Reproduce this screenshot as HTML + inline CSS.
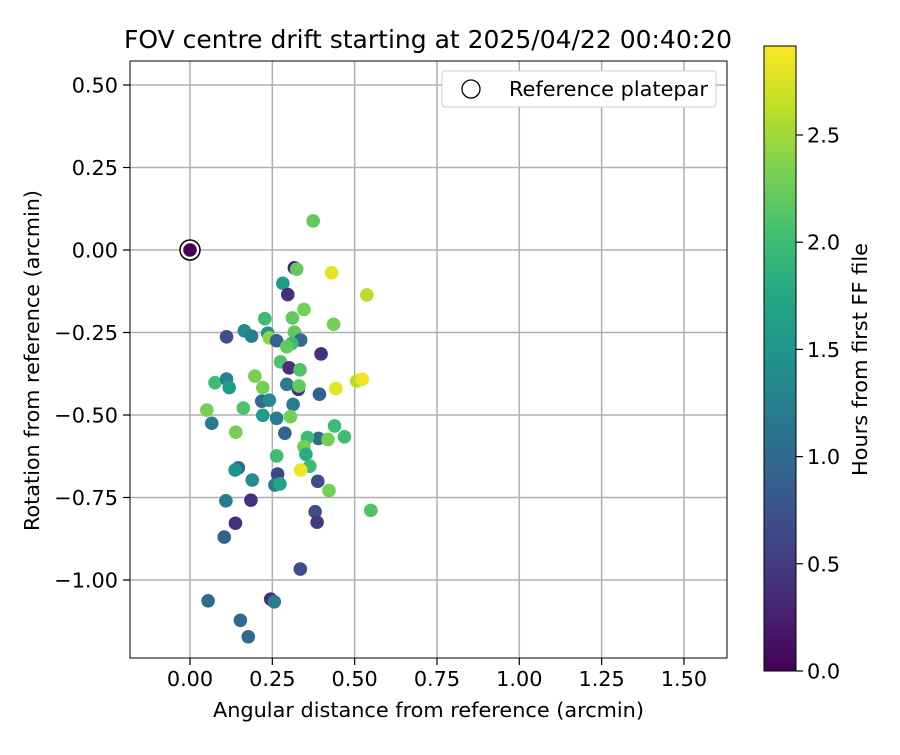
<!DOCTYPE html>
<html><head><meta charset="utf-8"><style>
body{margin:0;background:#fff}
svg text{font-family:"DejaVu Sans","Liberation Sans",sans-serif;fill:#000}
</style></head><body>
<svg id="chart" width="900" height="750" xmlns="http://www.w3.org/2000/svg">
<defs>
<linearGradient id="vir" x1="0" y1="1" x2="0" y2="0">
<stop offset="0" stop-color="#440154"/><stop offset="0.1" stop-color="#482475"/><stop offset="0.2" stop-color="#414487"/><stop offset="0.3" stop-color="#355f8d"/><stop offset="0.4" stop-color="#2a788e"/><stop offset="0.5" stop-color="#21918c"/><stop offset="0.6" stop-color="#22a884"/><stop offset="0.7" stop-color="#44bf70"/><stop offset="0.8" stop-color="#7ad151"/><stop offset="0.9" stop-color="#bddf26"/><stop offset="1" stop-color="#fde725"/>
</linearGradient>
</defs>
<text x="124" y="48" font-size="25" textLength="608" lengthAdjust="spacingAndGlyphs">FOV centre drift starting at 2025/04/22 00:40:20</text>
<g id="grid"></g>
<g id="pts"></g>
<rect x="130" y="61" width="597" height="597" fill="none" stroke="#000" stroke-width="1"/>
<g id="axes"></g>
<text x="213" y="717" font-size="20.8" textLength="431" lengthAdjust="spacingAndGlyphs">Angular distance from reference (arcmin)</text>
<text transform="translate(39,531) rotate(-90)" font-size="20.8" textLength="341" lengthAdjust="spacingAndGlyphs">Rotation from reference (arcmin)</text>
<g>
<rect x="442" y="71" width="274" height="36" rx="3" fill="#fff" stroke="#ccc"/>
<circle cx="471" cy="89" r="9" fill="#fff" stroke="#000" stroke-width="1.3"/>
<text x="509" y="96" font-size="20.8" textLength="199" lengthAdjust="spacingAndGlyphs">Reference platepar</text>
</g>
<rect x="764" y="46" width="32" height="625" fill="url(#vir)" stroke="#000" stroke-width="1"/>
<g id="cbticks"></g>
<text transform="translate(867,476) rotate(-90)" font-size="20.8" textLength="233" lengthAdjust="spacingAndGlyphs">Hours from first FF file</text>
</svg>
<script>
const xs=[0,0.374,0.317,0.324,0.430,0.282,0.297,0.537,0.346,0.227,0.311,0.436,0.111,0.165,0.187,0.236,0.241,0.263,0.317,0.336,0.309,0.294,0.398,0.275,0.301,0.334,0.076,0.111,0.119,0.197,0.221,0.294,0.329,0.331,0.393,0.443,0.506,0.523,0.218,0.241,0.313,0.051,0.162,0.221,0.263,0.305,0.066,0.139,0.288,0.439,0.469,0.390,0.357,0.419,0.346,0.352,0.263,0.364,0.336,0.147,0.137,0.266,0.189,0.258,0.273,0.388,0.422,0.109,0.185,0.380,0.386,0.549,0.138,0.104,0.335,0.055,0.245,0.256,0.153,0.177];
const ys=[0,0.088,-0.054,-0.058,-0.069,-0.101,-0.135,-0.136,-0.180,-0.208,-0.206,-0.225,-0.263,-0.245,-0.261,-0.252,-0.266,-0.275,-0.249,-0.273,-0.283,-0.293,-0.315,-0.339,-0.357,-0.363,-0.402,-0.391,-0.417,-0.382,-0.417,-0.407,-0.422,-0.412,-0.437,-0.420,-0.397,-0.392,-0.458,-0.455,-0.468,-0.485,-0.479,-0.501,-0.510,-0.505,-0.525,-0.552,-0.555,-0.533,-0.566,-0.571,-0.568,-0.574,-0.596,-0.619,-0.624,-0.655,-0.667,-0.660,-0.667,-0.679,-0.697,-0.712,-0.709,-0.701,-0.729,-0.760,-0.758,-0.793,-0.825,-0.789,-0.828,-0.870,-0.967,-1.063,-1.058,-1.066,-1.122,-1.172];
const hours=[0,2.2,0.3,2.2,2.8,1.6,0.4,2.6,2.3,2.0,2.2,2.3,0.7,1.4,1.2,1.5,2.4,0.9,2.2,1.0,2.0,2.2,0.4,2.1,0.4,2.1,2.0,1.3,1.6,2.3,2.3,1.2,0.4,2.2,0.9,2.8,2.6,2.85,1.0,1.4,1.2,2.3,2.1,1.6,1.2,2.3,1.2,2.3,0.9,2.0,2.0,1.0,2.0,2.3,2.3,1.8,2.0,2.0,2.85,1.0,1.5,0.6,1.4,1.2,1.7,0.7,2.3,1.2,0.4,0.7,0.5,2.1,0.4,0.9,0.7,1.0,0.4,1.2,1.0,1.0];
const xTicks=[0,0.25,0.5,0.75,1.0,1.25,1.5];
const xTickLabels=["0.00","0.25","0.50","0.75","1.00","1.25","1.50"];
const yTicks=[0.5,0.25,0,-0.25,-0.5,-0.75,-1.0];
const yTickLabels=["0.50","0.25","0.00","\u22120.25","\u22120.50","\u22120.75","\u22121.00"];
const cTicks=[0,0.5,1.0,1.5,2.0,2.5];
const cTickLabels=["0.0","0.5","1.0","1.5","2.0","2.5"];
const NS="http://www.w3.org/2000/svg";
const X=v=>190+v*329.3, Y=v=>250-v*330;
const cmax=2.915, CY=v=>671-v*(625/cmax);
const vir=["#440154","#482475","#414487","#355f8d","#2a788e","#21918c","#22a884","#44bf70","#7ad151","#bddf26","#fde725"];
function hx(c){return [1,3,5].map(i=>parseInt(c.substr(i,2),16));}
function cmap(t){t=Math.max(0,Math.min(1,t));const f=t*10,i=Math.min(9,Math.floor(f)),r=f-i;const a=hx(vir[i]),b=hx(vir[i+1]);return "rgb("+a.map((v,k)=>Math.round(v+(b[k]-v)*r)).join(",")+")";}
function mk(tag,at,parent){const e=document.createElementNS(NS,tag);for(const k in at)e.setAttribute(k,at[k]);parent.appendChild(e);return e;}
const grid=document.getElementById('grid'),axes=document.getElementById('axes'),pts=document.getElementById('pts'),cb=document.getElementById('cbticks');
xTicks.forEach((v,i)=>{
 const g=mk('line',{x1:X(v),x2:X(v),y1:61,y2:658,stroke:'#b0b0b0','stroke-width':1.5},grid);
 
 
 const t=mk('line',{x1:X(v),x2:X(v),y1:658,y2:665,stroke:'#000','stroke-width':1.2},axes);
 
 
 const l=mk('text',{x:X(v),y:686,'font-size':20.8,'text-anchor':'middle'},axes);l.textContent=xTickLabels[i];
 
 
});
yTicks.forEach((v,i)=>{
 const g=mk('line',{x1:130,x2:727,y1:Y(v),y2:Y(v),stroke:'#b0b0b0','stroke-width':1.5},grid);
 
 
 const t=mk('line',{x1:123,x2:130,y1:Y(v),y2:Y(v),stroke:'#000','stroke-width':1.2},axes);
 
 
 const l=mk('text',{x:118,y:Y(v)+7.5,'font-size':20.8,'text-anchor':'end'},axes);l.textContent=yTickLabels[i];
 
 
});
const ring=mk('circle',{cx:X(xs[0]),cy:Y(ys[0]),r:10,fill:'#fff',stroke:'#000','stroke-width':1.5},pts);


xs.forEach((v,i)=>{
 const c=mk('circle',{cx:X(v),cy:Y(ys[i]),r:6.8,fill:cmap(hours[i]/cmax)},pts);
 
 
});
cTicks.forEach((v,i)=>{
 const t=mk('line',{x1:796,x2:803,y1:CY(v),y2:CY(v),stroke:'#000','stroke-width':1.2},cb);
 
 
 const l=mk('text',{x:807,y:CY(v)+7.5,'font-size':20.8},cb);l.textContent=cTickLabels[i];
 
 
});
</script>
</body></html>
